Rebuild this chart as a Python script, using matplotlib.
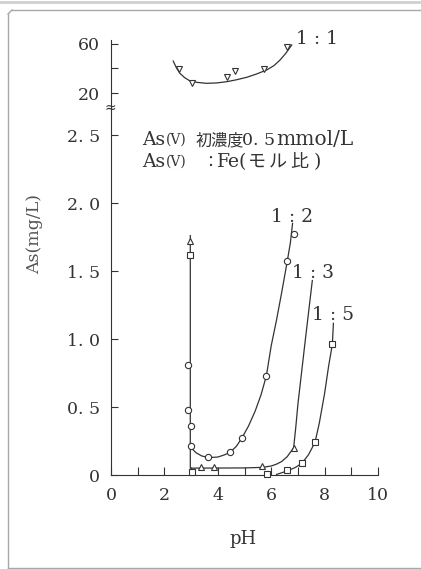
import matplotlib
matplotlib.use("Agg")
import matplotlib.pyplot as plt
from matplotlib.lines import Line2D

W, H = 421, 569
INK = "#333333"
SERIF = "DejaVu Serif"
CJK = "Noto Sans CJK JP"

plt.rcParams["font.family"] = [SERIF, CJK]

# As(V):Fe = 1:1, upper panel (inverted triangles)
ph_11 = [2.55, 3.04, 4.33, 4.63, 5.74, 6.58]
as_11 = [39.3, 28.4, 32.8, 38.2, 39.3, 57.3]
curve_ph_11 = [2.33, 2.45, 2.58, 2.76, 2.96, 3.25, 3.58, 3.95, 4.33, 4.7, 5.08, 5.45, 5.83, 6.1, 6.33, 6.55, 6.77]
curve_as_11 = [46.1, 40.5, 36.1, 32.5, 29.8, 28.6, 27.9, 28.2, 29.2, 30.8, 32.8, 35.5, 38.8, 42.3, 46.9, 52.5, 59.2]

# 1:2 (circles)
ph_12 = [2.87, 2.88, 2.98, 2.98, 3.65, 4.46, 4.91, 5.82, 6.6, 6.85]
as_12 = [0.81, 0.48, 0.36, 0.21, 0.13, 0.167, 0.275, 0.73, 1.57, 1.77]
curve_ph_12 = [2.98, 3.1, 3.2, 3.4, 3.65, 4.0, 4.25, 4.46, 4.7, 4.91, 5.15, 5.4, 5.62, 5.82, 6.0, 6.2, 6.4, 6.6, 6.72, 6.8]
curve_as_12 = [0.21, 0.18, 0.162, 0.14, 0.128, 0.132, 0.148, 0.167, 0.212, 0.275, 0.36, 0.47, 0.59, 0.73, 0.95, 1.14, 1.35, 1.57, 1.71, 1.85]

# 1:3 (triangles)
ph_13 = [2.97, 3.36, 3.87, 5.66, 6.84]
as_13 = [1.72, 0.057, 0.057, 0.064, 0.2]
curve_ph_13 = [2.97, 2.97, 3.36, 3.87, 5.0, 5.66, 6.0, 6.2, 6.4, 6.6, 6.84, 6.92, 7.0, 7.27, 7.54]
curve_as_13 = [1.76, 0.05, 0.051, 0.051, 0.052, 0.056, 0.066, 0.08, 0.1, 0.135, 0.2, 0.35, 0.52, 0.98, 1.43]

# 1:5 (squares)
ph_15 = [2.97, 3.03, 5.83, 6.6, 7.15, 7.64, 8.29]
as_15 = [1.62, 0.025, 0.005, 0.037, 0.086, 0.24, 0.96]
curve_ph_15 = [6.2, 6.45, 6.6, 6.9, 7.15, 7.4, 7.64, 7.8, 8.0, 8.15, 8.29, 8.33]
curve_as_15 = [0.004, 0.02, 0.03, 0.055, 0.086, 0.15, 0.24, 0.38, 0.6, 0.8, 0.96, 1.115]

low_ticks = [0, 0.5, 1.0, 1.5, 2.0, 2.5]
low_labels = ["0", "0. 5", "1. 0", "1. 5", "2. 0", "2. 5"]
up_ticks = [20, 40, 60]
up_labels = ["20", "", "60"]
x_major = [0, 2, 4, 6, 8, 10]
x_minor = [1, 3, 5, 7, 9]


def fx(x):
    return x / W


def fy(y):
    return 1 - y / H


fig = plt.figure(figsize=(W / 100, H / 100), dpi=100)

ax = fig.add_axes([fx(111), fy(475), (378 - 111) / W, (475 - 108) / H])
ax_up = fig.add_axes([fx(111), fy(108), (378 - 111) / W, (108 - 40) / H])

for a in (ax, ax_up):
    a.set_xlim(0, 10)
    a.patch.set_alpha(0)
    for side in ("top", "right"):
        a.spines[side].set_visible(False)
    for sp in a.spines.values():
        sp.set_color(INK)
        sp.set_linewidth(0.8)
    a.tick_params(which="both", direction="in", length=5, width=0.8,
                  color=INK, labelcolor=INK, labelsize=12.5)

ax.set_ylim(0, (475 - 108) / 136)
ax_up.set_ylim(20 - 15 * 0.8163, 20 + 53 * 0.8163)
ax_up.spines["bottom"].set_visible(False)
ax_up.set_xticks([])

ax.set_xticks(x_major)
ax.set_xticks(x_minor, minor=True)
ax.tick_params(axis="x", which="both", length=6, pad=9)
ax.set_yticks(low_ticks)
ax.set_yticklabels(low_labels)
ax.tick_params(axis="y", pad=8)
ax_up.set_yticks(up_ticks)
ax_up.set_yticklabels(up_labels)
ax_up.tick_params(axis="y", pad=8)

line_kw = dict(color=INK, linewidth=0.9, zorder=2)
mark_kw = dict(linestyle="none", markerfacecolor="white", markeredgecolor=INK,
               markeredgewidth=0.8, zorder=3, clip_on=False)

# 1:1
ax_up.plot(curve_ph_11, curve_as_11, **line_kw)
ax_up.plot(ph_11, as_11, marker="v", markersize=5, **mark_kw)

# 1:2, 1:3, 1:5
ax.plot(curve_ph_12, curve_as_12, **line_kw)
ax.plot(curve_ph_13, curve_as_13, **line_kw)
ax.plot(curve_ph_15, curve_as_15, **line_kw)
ax.plot(ph_12, as_12, marker="o", markersize=4.5, **mark_kw)
ax.plot(ph_13, as_13, marker="^", markersize=4.5, **mark_kw)
ax.plot(ph_15, as_15, marker="s", markersize=4.3, **mark_kw)

# series labels
for s, x, y in [("1 : 1", 316.7, 43.5), ("1 : 2", 291.7, 221.7),
                ("1 : 3", 312.5, 278.0), ("1 : 5", 333.0, 320.5)]:
    fig.text(fx(x), fy(y), s, ha="center", va="baseline", fontsize=13.5,
             color=INK, family=SERIF)

# break mark on the y axis
fig.text(fx(110), fy(108), "≈", ha="center", va="center", fontsize=10,
         color=INK, family="DejaVu Sans")


# condition notes, set piece by piece
def piece(x, y, s, size, family, ha="left"):
    fig.text(fx(x), fy(y), s, ha=ha, va="baseline", fontsize=size,
             color=INK, family=family)


piece(141.7, 145, "As", 13.5, SERIF)
piece(166, 143.5, "(V)", 10, SERIF)
piece(196, 145, "初濃度", 11.6, CJK)
piece(242, 145, "0. 5", 12.5, SERIF)
piece(276, 145, "mmol/L", 14.5, SERIF)

piece(141.7, 166.7, "As", 13.5, SERIF)
piece(166, 165.2, "(V)", 10, SERIF)
piece(210, 166.7, "：", 11.5, CJK, ha="center")
piece(217, 166.7, "Fe", 13.5, SERIF)
piece(239, 166.7, "(", 13.5, SERIF)
for ch, x in [("モ", 248), ("ル", 269), ("比", 290)]:
    piece(x, 166.7, ch, 13, CJK)
piece(314, 166.7, ")", 13.5, SERIF)

# axis titles
fig.text(fx(35), fy(234), "As(mg/L)", rotation=90, ha="center", va="center",
         fontsize=12.5, color="#555555", family=SERIF)
fig.text(fx(243), fy(539), "pH", ha="center", va="center", fontsize=13,
         color=INK, family=SERIF)

# page frame
frame_kw = dict(color="#a8a8a8", linewidth=1.0, transform=fig.transFigure)
fig.add_artist(Line2D([fx(8), fx(8)], [fy(14), fy(568)], **frame_kw))
fig.add_artist(Line2D([fx(12), fx(421)], [fy(10), fy(10)], **frame_kw))
fig.add_artist(Line2D([fx(8), fx(12)], [fy(14), fy(10)], **frame_kw))
fig.add_artist(Line2D([fx(8), fx(421)], [fy(568), fy(568)], **frame_kw))
fig.add_artist(Line2D([0, 1], [fy(1.5), fy(1.5)], color="#d0d0d0",
                      linewidth=2, transform=fig.transFigure))

fig.savefig("out.png", dpi=100)
